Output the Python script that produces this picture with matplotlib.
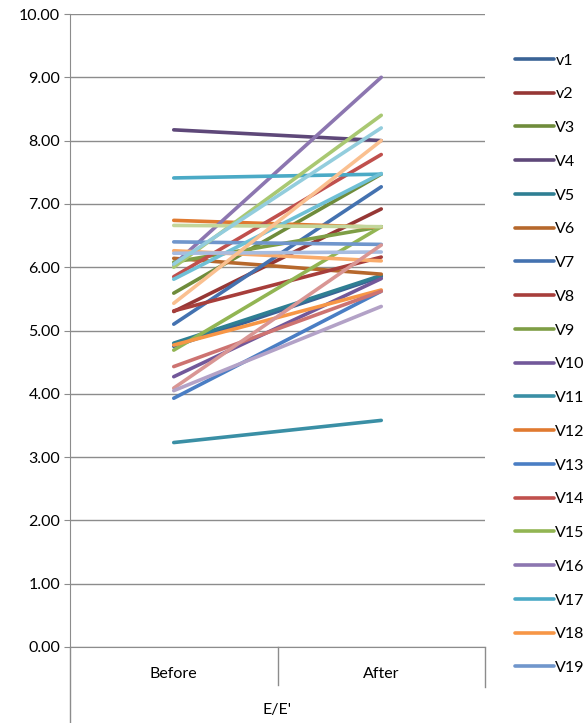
import matplotlib
matplotlib.use("Agg")
import matplotlib.pyplot as plt
from matplotlib.lines import Line2D

plt.rcParams['font.family'] = ['Lato', 'DejaVu Sans']

categories = ["Before", "After"]
axis_title = "E/E'"

names = ["v1", "v2", "V3", "V4", "V5", "V6", "V7", "V8", "V9", "V10",
         "V11", "V12", "V13", "V14", "V15", "V16", "V17", "V18", "V19", "V20",
         "V21", "V22", "V23", "V24", "V25", "V26", "V27", "V28", "V29"]

before = [4.75, 5.30, 5.59, 8.17, 4.80, 6.14, 5.10, 5.31, 6.08, 4.27,
          3.23, 6.74, 3.93, 5.85, 4.69, 6.04, 7.41, 4.77, 6.40, 4.43,
          6.00, 5.81, 6.26, 6.22, 4.09, 6.66, 4.05, 6.05, 5.43]

after = [5.85, 6.92, 7.47, 8.00, 5.87, 5.89, 7.27, 6.16, 6.64, 5.82,
         3.58, 6.63, 5.62, 7.78, 6.64, 9.00, 7.47, 5.64, 6.36, 5.62,
         8.40, 7.48, 6.10, 6.24, 6.35, 6.64, 5.38, 8.20, 8.00]

colors = ["#3A6396", "#963735", "#6F8C3B", "#5E4879", "#2F7F93", "#B6682C",
          "#4472B0", "#A73E3B", "#7E9E45", "#72589A", "#3A8FA5", "#E07A30",
          "#4A7EC4", "#C0504D", "#92B553", "#8C76B0", "#4BAAC6", "#F79646",
          "#7096CC", "#CD7371", "#A9C872", "#6FC0D6", "#F9AB6B", "#A7BCE0",
          "#D99694", "#C3D69B", "#B3A2C7", "#93CDDD", "#FAC090"]

FS = 11.5

fig = plt.figure(figsize=(5.86, 7.23), dpi=100)
W, H = 586, 723
ax = fig.add_axes([70 / W, 1 - 647 / H, (485 - 70) / W, (647 - 14) / H])

xs = range(len(categories))
for i in range(len(names)):
    ax.plot(xs, [before[i], after[i]], color=colors[i], lw=2.6,
            solid_capstyle='round', label=names[i], zorder=3)

ax.set_xlim(-0.5, 1.5)
ax.set_ylim(0, 10)
ax.set_yticks(range(0, 11))
ax.set_yticklabels(["%.2f" % v for v in range(0, 11)], fontsize=FS)
ax.yaxis.grid(True, color="#8C8C8C", lw=1)
ax.set_axisbelow(True)
ax.tick_params(axis='y', length=4, color="#8C8C8C", pad=3)
ax.set_xticks([])
for s in ["top", "right"]:
    ax.spines[s].set_visible(False)
for s in ["left", "bottom"]:
    ax.spines[s].set_color("#8C8C8C")

# category labels and separators below the plot
ax_h = 647 - 14
for x, lab in zip(xs, categories):
    ax.text(x, -27 / ax_h * 10, lab, ha='center', va='center', fontsize=FS,
            transform=ax.transData, clip_on=False)
ax.text(0.5, -63 / ax_h, axis_title, ha='center', va='center', fontsize=FS,
        transform=ax.transAxes)
for xf, depth in [(0.0, 76), (0.5, 38), (1.0, 40)]:
    ax.add_line(Line2D([xf, xf], [0, -depth / ax_h], transform=ax.transAxes,
                       color="#8C8C8C", lw=1, clip_on=False))

handles, labels = ax.get_legend_handles_labels()
leg = fig.legend(handles[:19], labels[:19], loc='upper left',
                 bbox_to_anchor=(509 / W, 1 - 47 / H), frameon=False,
                 fontsize=FS, handlelength=2.4, handletextpad=0.1,
                 labelspacing=1.225, borderaxespad=0)

fig.savefig("out.png", dpi=100)
